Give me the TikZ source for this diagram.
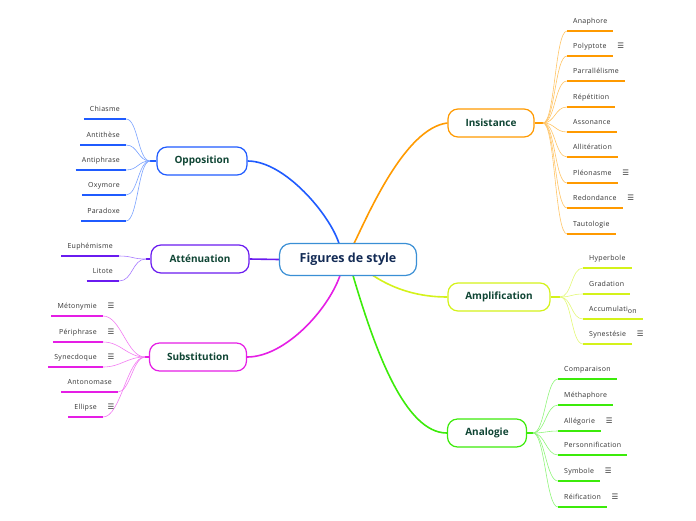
\documentclass[tikz,border=0pt]{standalone}
\usepackage{fontspec}
\setmainfont{Open Sans}
\newfontfamily\symf{DejaVu Sans}
\newfontfamily\leaffont[LetterSpace=4]{Open Sans}
\usetikzlibrary{calc}
\pgfdeclarelayer{bg}
\pgfsetlayers{bg,main}
\definecolor{cBlue}{HTML}{1F5BFF}
\definecolor{cBlueL}{HTML}{7AA2FF}
\definecolor{cPur}{HTML}{6A1BF0}
\definecolor{cPurL}{HTML}{A77BFF}
\definecolor{cMag}{HTML}{E51EE5}
\definecolor{cMagL}{HTML}{F27AF2}
\definecolor{cOra}{HTML}{FF9A00}
\definecolor{cOraL}{HTML}{FFC466}
\definecolor{cYel}{HTML}{D4F21A}
\definecolor{cYelL}{HTML}{E3F878}
\definecolor{cGre}{HTML}{3CEB0A}
\definecolor{cGreL}{HTML}{8FF57A}
\definecolor{cCen}{HTML}{3A8FD5}
\definecolor{tDark}{HTML}{0F4534}
\definecolor{tNavy}{HTML}{132B55}
\definecolor{tGray}{HTML}{333333}
\tikzset{
  centre/.style={draw=cCen, line width=1.2pt, rounded corners=11pt, fill=white,
    minimum width=137pt, minimum height=32pt, inner sep=0pt,
    font=\bfseries\fontsize{12.5}{14}\selectfont, text=tNavy},
  branch/.style={draw=#1, line width=1.2pt, rounded corners=10pt, fill=white,
    minimum height=28pt, inner sep=0pt,
    font=\bfseries\fontsize{10}{12}\selectfont, text=tDark},
  leaf/.style={font=\leaffont\fontsize{7}{8}\selectfont, text=tGray, inner xsep=6pt,
    inner ysep=5.5pt, text height=5pt, text depth=1.5pt},
  lleaf/.style={leaf, anchor=south east},
  rleaf/.style={leaf, anchor=south west},
  icon/.style={font=\symf\fontsize{7.5}{8}\selectfont, text=tGray, inner sep=0pt},
  uline/.style={draw=#1, line width=1.6pt},
  twig/.style={draw=#1, line width=0.6pt},
  limb/.style={draw=#1, line width=1.6pt},
}
\begin{document}
\begin{tikzpicture}[x=1pt,y=-1pt]
\useasboundingbox (0,0) rectangle (696,520);

% centre and branches
\node[centre] (ctr) at (348,259.5) {Figures de style};
\node[branch=cBlue, minimum width=90pt] (opp) at (202,161) {Opposition};
\node[branch=cPur, minimum width=98pt] (att) at (200,259) {Atténuation};
\node[branch=cMag, minimum width=97pt] (sub) at (198,357) {Substitution};
\node[branch=cOra, minimum width=86pt] (ins) at (491,123) {Insistance};
\node[branch=cYel, minimum width=102pt] (amp) at (499,297) {Amplification};
\node[branch=cGre, minimum width=79pt] (ana) at (487,433) {Analogie};

% convergence points
\coordinate (kO) at (150,161);
\coordinate (kA) at (146,259);
\coordinate (kS) at (145,357);
\coordinate (kI) at (543,123);
\coordinate (kP) at (560,297);
\coordinate (kN) at (533,433);

% Opposition leaves
\node[lleaf] (o1) at (126,119) {Chiasme};
\node[lleaf] (o2) at (126,145) {Antithèse};
\node[lleaf] (o3) at (126,170) {Antiphrase};
\node[lleaf] (o4) at (126,195) {Oxymore};
\node[lleaf] (o5) at (126,221) {Paradoxe};
% Atténuation leaves
\node[lleaf] (a1) at (119,256) {Euphémisme};
\node[lleaf] (a2) at (119,281) {Litote};
% Substitution leaves
\node[lleaf] (s1) at (103,316) {Métonymie};
\node[lleaf] (s2) at (103,342) {Périphrase};
\node[lleaf] (s3) at (103,367) {Synecdoque};
\node[lleaf] (s4) at (118,392) {Antonomase};
\node[lleaf] (s5) at (103,417) {Ellipse};
% Insistance leaves
\node[rleaf] (i1) at (567,31) {Anaphore};
\node[rleaf] (i2) at (567,56) {Polyptote};
\node[rleaf] (i3) at (567,81) {Parrallélisme};
\node[rleaf] (i4) at (567,107) {Répétition};
\node[rleaf] (i5) at (567,132) {Assonance};
\node[rleaf] (i6) at (567,157) {Allitération};
\node[rleaf] (i7) at (567,183) {Pléonasme};
\node[rleaf] (i8) at (567,208) {Redondance};
\node[rleaf] (i9) at (567,234) {Tautologie};
% Amplification leaves
\node[rleaf] (p1) at (583,268) {Hyperbole};
\node[rleaf] (p2) at (583,294) {Gradation};
\node[rleaf] (p3) at (583,319) {Accumulati\raisebox{-1.5pt}{on}};
\node[rleaf] (p4) at (583,344) {Synestésie};
% Analogie leaves
\node[rleaf] (n1) at (558,379) {Comparaison};
\node[rleaf] (n2) at (558,405) {Méthaphore};
\node[rleaf] (n3) at (558,431) {Allégorie};
\node[rleaf] (n4) at (558,455) {Personnification};
\node[rleaf] (n5) at (558,481) {Symbole};
\node[rleaf] (n6) at (558,507) {Réification};

% note icons
\foreach \n in {s1,s2,s3,s5,i2,i7,i8,p4,n3,n5,n6}
  \node[icon] (ic\n) at ([shift={(8,-10)}]\n.south east) {☰};

% underlines
\foreach \n in {o1,o2,o3,o4,o5} \draw[uline=cBlue] (\n.south west) -- (\n.south east);
\foreach \n in {a1,a2} \draw[uline=cPur] (\n.south west) -- (\n.south east);
\foreach \n in {s1,s2,s3,s4,s5} \draw[uline=cMag] (\n.south west) -- (\n.south east);
\foreach \n in {i1,i2,i3,i4,i5,i6,i7,i8,i9} \draw[uline=cOra] (\n.south west) -- (\n.south east);
\foreach \n in {p1,p2,p3,p4} \draw[uline=cYel] (\n.south west) -- (\n.south east);
\foreach \n in {n1,n2,n3,n4,n5,n6} \draw[uline=cGre] (\n.south west) -- (\n.south east);

\begin{pgfonlayer}{bg}
% main limbs
\draw[limb=cBlue] (ctr.center) -- ++(-9,-16) .. controls (330,215) and (285,161) .. (opp.east);
\draw[limb=cOra] (ctr.center) -- ++(6,-16) .. controls (368,215) and (405,128) .. (ins.west);
\draw[limb=cPur] (ctr.west) -- (att.east);
\draw[limb=cMag] (ctr.center) -- ++(-8,16) .. controls (328,310) and (285,357) .. (sub.east);
\draw[limb=cGre] (ctr.center) -- ++(5,16) .. controls (375,350) and (405,433) .. (ana.west);
\draw[limb=cYel] (ctr.center) -- ++(25,16) .. controls (395,290) and (420,297) .. (amp.west);
% stubs
\draw[limb=cBlue, line width=1.2pt] (opp.west) -- (kO);
\draw[limb=cPur, line width=1.2pt] (att.west) -- (kA);
\draw[limb=cMag, line width=1.2pt] (sub.west) -- (kS);
\draw[limb=cOra, line width=1.2pt] (ins.east) -- (kI);
\draw[limb=cYel, line width=1.2pt] (amp.east) -- (kP);
\draw[limb=cGre, line width=1.2pt] (ana.east) -- (kN);
% twigs
\foreach \n in {o1,o2,o3,o4,o5} \draw[twig=cBlueL] (kO) .. controls +(-12,0) and +(12,0) .. (\n.south east);
\foreach \n in {a1,a2} \draw[twig=cPurL] (kA) .. controls +(-14,0) and +(14,0) .. (\n.south east);
\foreach \n in {s1,s2,s3,s5} \draw[twig=cMagL] (kS) .. controls +(-18,0) and +(18,0) .. (\n.south east);
\draw[twig=cMagL] (kS) .. controls +(-12,0) and +(12,0) .. (s4.south east);
\foreach \n in {i1,i2,i3,i4,i5,i6,i7,i8,i9} \draw[twig=cOraL] (kI) .. controls +(12,0) and +(-12,0) .. (\n.south west);
\foreach \n in {p1,p2,p3,p4} \draw[twig=cYelL] (kP) .. controls +(12,0) and +(-12,0) .. (\n.south west);
\foreach \n in {n1,n2,n3,n4,n5,n6} \draw[twig=cGreL] (kN) .. controls +(12,0) and +(-12,0) .. (\n.south west);
\end{pgfonlayer}
\end{tikzpicture}
\end{document}
